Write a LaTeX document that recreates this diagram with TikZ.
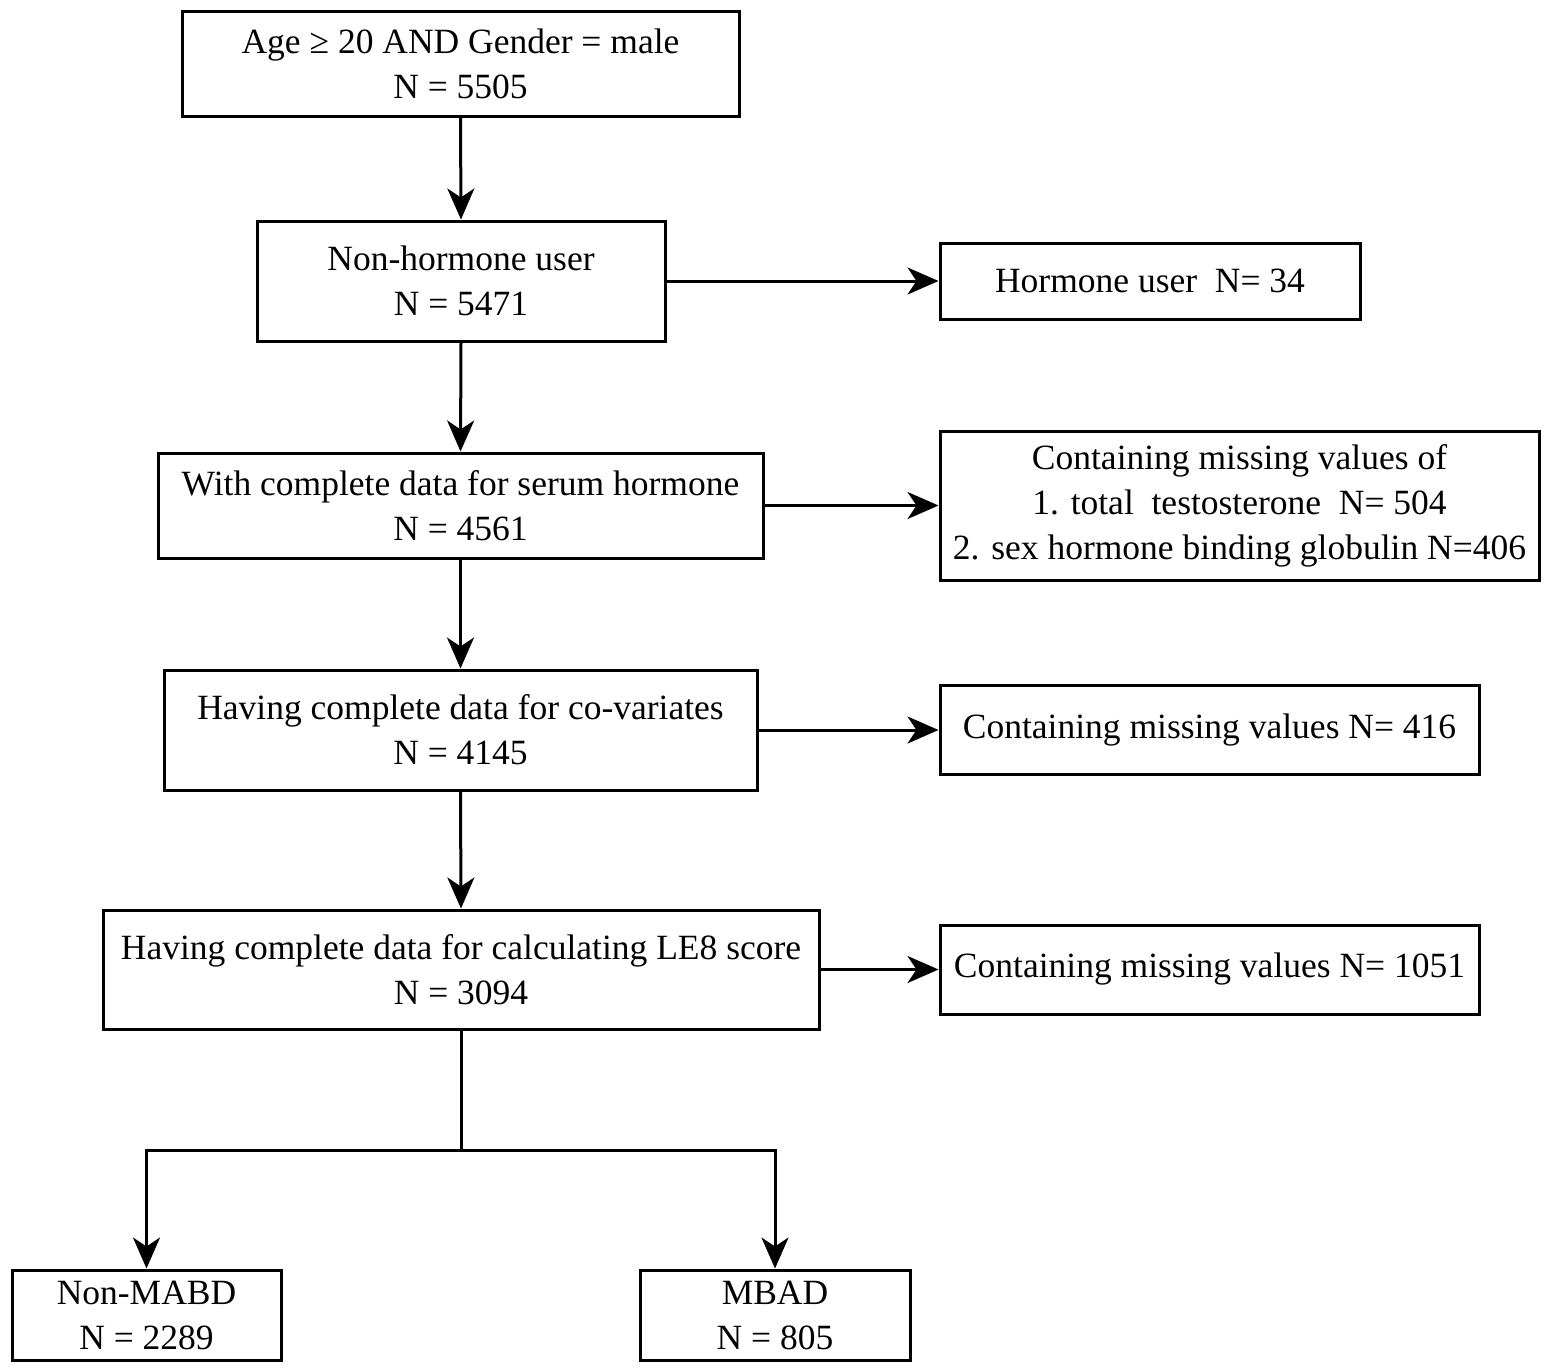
\documentclass[tikz,border=0pt]{standalone}
\usepackage{fontspec}
\setmainfont{Liberation Serif}
\usetikzlibrary{arrows.meta}
\begin{document}
\begin{tikzpicture}[x=1pt,y=-1pt,
  box/.style={draw,line width=3pt,rectangle,align=center,inner sep=0pt,
    font=\fontsize{35.5}{45}\selectfont},
  arr/.style={line width=3pt,-{Stealth[length=31pt,width=27pt,inset=9pt]}},
  ln/.style={line width=3pt}]
\useasboundingbox (0,0) rectangle (1550,1371);
\node[box,minimum width=557pt,minimum height=105pt] (b1) at (460.5,63.5) {Age ≥ 20 AND Gender = male\\N = 5505};
\node[box,minimum width=408pt,minimum height=120pt] (b2) at (461,281) {Non-hormone user\\N = 5471};
\node[box,minimum width=420pt,minimum height=76pt] (h) at (1150,281) {Hormone user\ \ N= 34};
\node[box,minimum width=605pt,minimum height=105pt] (b3) at (460.5,505.5) {With complete data for serum hormone\\N = 4561};
\node[box,minimum width=599pt,minimum height=149pt] (m1) at (1239.5,505.5) {Containing missing values of\\1. total\ \ testosterone\ \ N= 504\\2. sex hormone binding globulin N=406};
\node[box,minimum width=593pt,minimum height=120pt] (b4) at (460.5,730) {Having complete data for co-variates\\N = 4145};
\node[box,minimum width=539pt,minimum height=89pt] (m2) at (1209.5,730) {Containing missing values N= 416};
\node[box,minimum width=716pt,minimum height=119pt] (b5) at (461,969.5) {Having complete data for calculating LE8 score\\N = 3094};
\node[box,minimum width=539pt,minimum height=89pt] (m3) at (1209.5,969.5) {Containing missing values N= 1051};
\node[box,minimum width=269pt,minimum height=90pt] (n1) at (146.5,1315) {Non-MABD\\N = 2289};
\node[box,minimum width=270pt,minimum height=90pt] (n2) at (775,1315) {MBAD\\N = 805};
\draw[arr] (b1.south) -- (b2.north);
\draw[arr] (b2.south) -- (b3.north);
\draw[arr] (b3.south) -- (b4.north);
\draw[arr] (b4.south) -- (b5.north);
\draw[arr] (b2.east) -- (h.west);
\draw[arr] (b3.east) -- (m1.west);
\draw[arr] (b4.east) -- (m2.west);
\draw[arr] (b5.east) -- (m3.west);
\coordinate (split) at (461,1150);
\draw[ln] (b5.south) -- (split);
\draw[arr] (split) -| (n1.north);
\draw[arr] (split) -| (n2.north);
\end{tikzpicture}
\end{document}
